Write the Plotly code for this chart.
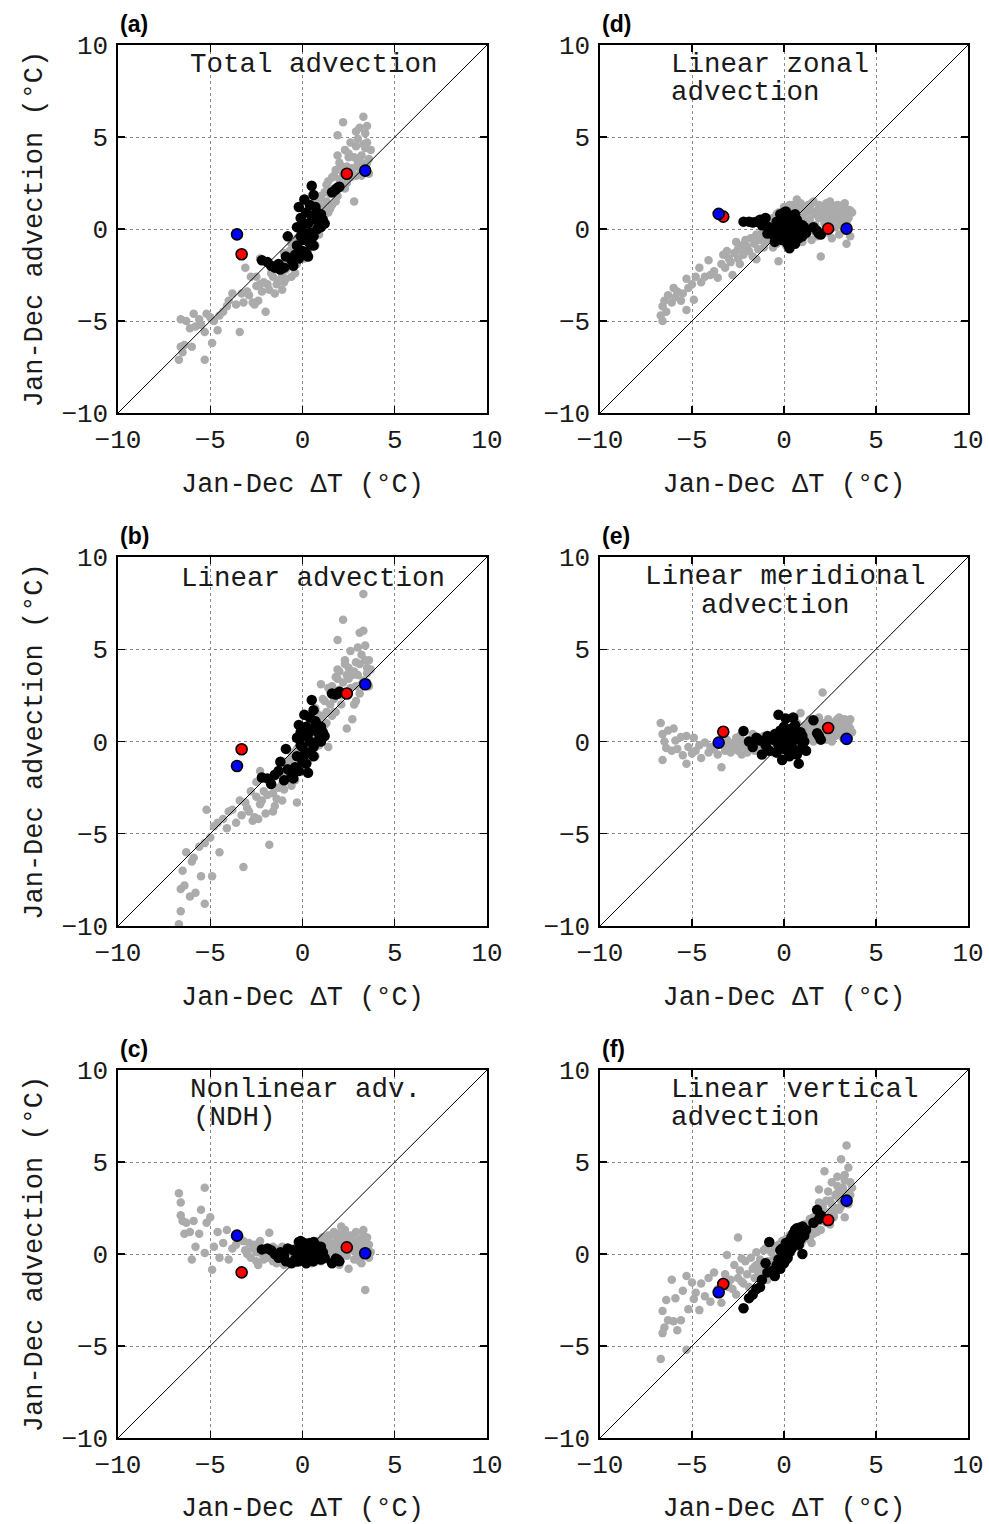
import plotly.graph_objects as go

# ---------------- data ----------------
AXIS_RANGE = [-10, 10]
TICKS = [-10, -5, 0, 5, 10]

# Jan-Dec Delta T (shared x for all panels)
gray_x = [-6.7, -6.6, -6.6, -6.5, -6.4, -6.3, -6.1, -6.0, -5.9, -5.8, -5.6, -5.5, -5.3, -5.3, -5.2,
          -5.0, -4.9, -4.8, -4.6, -4.5, -4.3, -4.1, -4.0, -3.8, -3.6, -3.4, -3.3, -3.2, -3.1, -3.0,
          -2.9, -2.8, -2.7, -2.6, -2.5, -2.5, -2.4, -2.3, -2.2, -2.1, -2.0, -1.9, -1.8, -1.7, -1.6,
          -1.5, -1.5, -1.4, -1.3, -1.2, -1.1, -1.1, -1.0, -1.0, -0.9,
          -0.8, -0.7, -0.6, -0.6, -0.5, -0.4, -0.3, -0.3, -0.2, -0.1, 0.0, 0.0, 0.1, 0.2, 0.2,
          0.3, 0.4, 0.4, 0.5, 0.5, 0.6, 0.7, 0.7, 0.8, 0.8, 0.9, 0.9, 1.0, 1.0, 1.1,
          1.2, 1.2, 1.3, 1.4, 1.4, 1.5, 1.6, 1.6, 1.7, 1.8, 1.8, 1.9, 2.0, 2.0, 2.1,
          2.2, 2.2, 2.3, 2.4, 2.4, 2.5, 2.6, 2.6, 2.7, 2.8, 2.8, 2.9, 3.0, 3.0, 3.1,
          3.2, 3.2, 3.3, 3.3, 3.4, 3.4, 3.5, 3.5, 3.6, 3.6, 3.7, 2.5, 2.9, 1.9, 3.1,
          0.3, 0.6, 0.9, 1.1, 1.3, 1.5, 1.7, 1.9, 2.1, 2.3, 2.5, 2.7, 2.9, 3.1, 3.3,
          3.5, -0.4, -0.9, -1.6, -2.3]

gray_y = {
    "a": [-7.1, -6.4, -4.9, -6.7, -6.3, -5.0, -5.4, -6.4, -4.6, -5.3, -4.9, -5.2, -7.1, -5.6, -4.6,
          -4.8, -6.2, -5.0, -5.5, -4.7, -4.5, -4.2, -3.9, -3.5, -4.1, -5.6, -3.5, -4.0, -2.1, -3.4,
          -3.6, -2.6, -4.0, -4.1, -3.1, -2.6, -3.9, -1.6, -3.4, -2.9, -4.5, -3.0, -3.3, -2.4, -2.6,
          -3.5, -2.2, -3.0, -2.8, -1.9, -2.5, -3.3, -2.9, -1.3, -2.2,
          -2.0, -1.2, -2.6, -0.8, -1.5, -2.4, -0.5, -1.9, 0.0, -1.1, -0.6, 0.5, -1.6, 0.2, -0.3,
          -1.2, 0.8, 0.3, -0.4, 1.0, 0.6, -0.9, 1.5, 0.2, 1.3, -0.3, 0.9, 1.8, 0.4, 1.2,
          0.8, 2.0, 1.5, 2.6, 0.9, 1.9, 2.8, 1.3, 2.2, 3.2, 1.5, 5.1, 2.7, 3.6, 2.4,
          5.8, 3.0, 4.3, 3.4, 2.5, 3.9, 4.7, 2.8, 3.3, 3.9, 1.5, 2.9, 4.9, 3.6, 5.5,
          2.9, 4.0, 6.1, 3.5, 5.2, 4.4, 3.6, 4.7, 3.0, 3.8, 4.3, 3.1, 4.5, 4.0, 3.3,
          1.0, 0.2, 1.6, 0.5, 2.4, 1.1, 2.9, 1.8, 3.4, 2.2, 4.1, 3.0, 5.3, 3.8, 4.6,
          5.6, -1.0, -2.7, -2.0, -3.0],
    "b": [-9.9, -8.0, -9.2, -7.0, -7.8, -6.0, -8.4, -6.5, -6.3, -8.2, -5.7, -7.3, -8.8, -5.5, -3.7,
          -5.2, -7.3, -4.6, -4.4, -6.0, -4.2, -4.7, -3.8, -3.7, -4.4, -3.2, -4.0, -6.8, -3.3, -3.6,
          -3.8, -2.7, -4.3, -4.1, -3.0, -2.2, -4.2, -1.6, -3.2, -2.7, -3.9, -2.9, -5.6, -2.3, -2.8,
          -3.5, -1.9, -3.1, -2.5, -1.7, -2.3, -3.2, -2.6, -1.1, -2.0,
          -1.8, -1.0, -2.4, -0.6, -1.3, -2.1, -0.4, -3.3, 0.2, -1.0, -0.5, 0.6, -1.5, 0.3, -0.2,
          -1.1, 0.9, 0.4, -0.3, 1.2, 0.7, -0.8, 1.8, 0.3, 1.5, -0.2, 1.0, 3.1, 0.5, 1.4,
          0.9, 2.2, 1.6, 2.9, -0.3, 2.0, 3.0, 1.4, 2.3, 3.5, 1.6, 5.5, 2.8, 3.8, 2.5,
          6.6, 3.2, 4.2, 3.6, 0.7, 4.0, 4.9, 2.9, 1.2, 3.8, 2.0, 3.0, 5.1, 3.6, 5.9,
          3.1, 4.7, 8.0, 3.3, 5.2, 4.4, 3.7, 4.0, 3.0, 4.4, 3.9, 3.4, 4.3, 3.9, 2.6,
          0.5, 1.4, 0.0, 2.3, 1.0, 2.7, 1.6, 3.4, 2.0, 4.4, 2.6, 3.6, 2.2, 4.2, 6.0,
          3.2, -1.7, -1.6, -3.8, -3.4],
    "c": [3.3, 2.8, 2.1, 1.8, 1.1, 1.7, 1.2, -0.3, 1.8, 0.4, 1.1, 2.4, 3.6, 0.05, 1.7,
          2.0, -0.85, 0.4, 1.2, -0.2, 0.6, 1.3, -0.3, 0.3, 0.5, 0.9, -1.05, 0.7, 0.2, 0.0,
          0.6, -0.2, 0.3, 0.5, -0.4, 0.1, -0.6, 0.3, 0.0, -0.3, 0.2, -0.2, 1.15, 0.1, -0.4,
          0.0, 0.3, -0.5, 0.2, -0.1, -0.3, 0.4, 0.0, -0.6, -0.2,
          0.2, -0.4, 0.1, -0.2, 0.3, -0.5, 0.0, 0.4, -0.3, 0.2, -0.1, 0.5, -0.4, 0.1, 0.3,
          -0.2, 0.6, 0.0, -0.5, 0.2, 0.4, -0.3, 0.1, 0.7, -0.1, 0.3, 0.5, -0.4, 0.2, 0.9,
          0.4, -0.3, 0.8, 0.1, 1.0, -0.4, 0.5, 0.2, 1.2, -0.2, 0.6, 0.3, -0.6, 0.9, 1.5,
          0.0, 0.4, 1.1, -0.1, 0.7, -0.8, 0.3, 1.0, 0.2, 0.6, -0.3, 1.2, 0.5, 0.0, 0.8,
          -0.5, 0.3, 1.3, 0.1, 0.6, -1.95, 0.9, 0.2, 0.5, -0.2, 0.1, 0.8, 0.4, 1.1, -0.4,
          0.3, -0.2, 0.5, 0.9, -0.1, 0.6, 1.0, 0.2, 0.7, 1.3, 0.4, 0.9, 0.1, 0.6, 1.0,
          0.3, 0.1, -0.5, 0.4, 0.7],
    "d": [-4.7, -5.0, -4.2, -3.9, -4.5, -3.6, -4.0, -3.2, -3.7, -3.4, -3.9, -3.5, -4.4, -2.7, -3.2,
          -3.0, -3.85, -2.6, -2.1, -2.9, -2.6, -1.7, -2.5, -2.3, -2.65, -1.9, -1.4, -2.1, -1.2, -1.6,
          -1.8, -2.5, -1.3, -0.7, -1.6, -1.1, -1.9, -0.9, -1.4, -0.6, -0.95, -1.2, -0.5, -1.5, -0.8,
          -1.65, -0.3, -1.1, -0.6, -0.2, -1.0, -0.4, -0.7, 0.2, -0.3,
          -0.5, 0.3, -1.0, 0.6, -0.2, -0.8, 0.9, -1.75, 0.4, -0.5, 1.2, 0.1, -0.9, 0.7, -0.3,
          1.0, 0.2, -0.6, 1.3, 0.5, -0.2, 1.6, 0.8, -0.5, 1.1, 0.3, 1.4, -0.7, 0.6, 1.2,
          0.9, -0.3, 1.3, 0.5, 1.1, -0.6, 0.8, 1.5, 0.2, 1.0, -0.4, 1.3, 0.6, -1.5, 1.2,
          0.3, 0.9, 1.4, -0.2, 0.7, 1.1, 0.4, -0.5, 1.2, 0.8, 0.1, 1.3, 0.5, -0.3, 1.0,
          0.7, 1.3, -0.1, 0.9, 0.4, -0.8, 1.05, 0.6, 1.0, -0.4, 0.9, 0.3, 1.1, 0.6, 0.2,
          1.3, 0.6, -0.4, 1.0, 0.3, 1.4, -0.2, 0.9, 1.2, 0.5, 1.5, 0.7, 1.1, 0.2, 1.4,
          0.6, 0.8, -0.1, -0.7, -1.2],
    "e": [1.0, -1.0, 0.4, 0.0, -0.35, 0.6, -0.5, 0.7, 0.05, -0.4, 0.25, -0.75, -1.2, 0.3, -0.3,
          -0.65, 0.2, -0.5, -0.2, -0.9, -0.05, -0.6, -0.3, -0.4, -0.7, -1.4, -0.2, -0.5, 0.1, -0.3,
          -0.6, -0.1, -0.4, 0.2, -0.5, -0.2, 0.3, -0.7, 0.0, -0.3, -0.6, 0.1, -0.2, 0.4, -0.5,
          -0.1, 0.2, -0.4, 0.0, -0.7, 0.3, -0.2, 0.1, -0.5, 0.0,
          -0.3, 0.2, -0.6, 0.0, 0.4, -0.2, -0.7, 0.1, 0.3, -0.4, 0.0, -0.5, 0.2, 0.5, -0.3,
          0.1, -0.6, 0.3, 0.6, -0.1, 0.2, -0.4, 1.0, 0.4, 0.0, 0.6, 1.55, 0.2, 0.8, 0.4,
          0.3, 0.9, 0.1, 0.6, 1.2, 0.4, 0.0, 0.8, 1.1, 0.3, 0.7, 1.3, 0.2, 0.9, 2.65,
          0.5, 1.0, 0.1, 0.7, 1.2, 0.4, 0.9, 0.0, 0.6, 1.1, 0.3, 0.8, 1.3, 0.5, 0.9,
          0.2, 1.0, 0.6, 1.2, 0.45, 0.8, 1.0, 0.3, 0.7, 1.2, 0.5, 0.8, 0.4, 1.1, 0.6,
          0.2, -0.3, 0.5, 0.0, 0.7, 0.2, 0.9, 0.4, 0.6, 1.0, 0.3, 0.7, 1.2, 0.5, 0.9,
          0.8, -0.4, 0.1, -0.3, 0.0],
    "f": [-5.7, -4.3, -3.1, -4.0, -2.5, -3.6, -1.4, -3.65, -2.4, -4.15, -3.6, -2.0, -5.2, -1.2, -3.0,
          -1.55, -2.45, -2.1, -3.05, -1.6, -2.3, -1.3, -2.6, -1.0, -1.9, -2.65, -1.5, -1.1, -0.05, -1.8,
          -1.4, -1.9, -0.6, -2.2, 0.9, -1.3, -0.9, -0.25, -1.6, -0.4, -1.1, -1.8, -0.2, -0.8, -1.3,
          0.1, -0.6, -1.0, -0.3, -0.7, 0.2, -0.5, -1.2, 0.3, -0.4,
          -0.6, 0.1, -0.3, -0.9, 0.4, -0.2, 0.5, -0.6, 0.2, 0.7, -0.1, 0.3, 0.8, -0.3, 0.5,
          1.0, 0.1, 0.6, 1.2, 0.3, 0.8, 1.3, 0.4, 0.9, 1.5, 0.6, 1.1, 0.7, 1.4, 1.0,
          0.9, 1.6, 1.2, 0.8, 1.9, 1.4, 1.1, 2.0, 1.5, 1.2, 2.3, 3.5, 1.8, 1.3, 2.6,
          4.5, 1.9, 2.9, 2.2, 3.4, 1.6, 2.7, 3.9, 2.1, 3.2, 2.5, 3.7, 2.4, 3.0, 5.15,
          2.8, 3.6, 2.0, 4.0, 5.9, 3.3, 4.7, 2.7, 3.9, 3.2, 3.6, 2.3, 4.2, 2.8, 3.4,
          0.2, 0.9, 0.5, 1.6, 0.9, 0.6, 1.9, 1.3, 2.4, 1.7, 2.9, 2.0, 3.3, 2.6, 4.3,
          3.0, 0.4, -1.4, -0.7, -1.5],
}

black_x = [-2.2, -1.9, -1.7, -1.5, -1.3, -1.2, -1.0, -0.9, -0.8, -0.6,
           -0.5, -0.4, -0.3, -0.2, -0.2, -0.1, -0.1, 0.0, 0.0, 0.1,
           0.1, 0.2, 0.2, 0.3, 0.3, 0.4, 0.4, 0.5, 0.5, 0.6,
           0.6, 0.7, 0.7, 0.8, 0.8, 0.9, 1.0, 1.0, 1.1, 1.2,
           1.6, 1.8, 1.9, 2.0, 0.4, 0.0, -0.3, 0.6]

black_y = {
    "a": [-1.7, -1.8, -2.0, -2.1, -1.9, -2.2, -2.1, -1.5, -0.4, -1.7,
          -2.0, -1.4, -0.9, 1.2, -1.6, -0.4, 0.6, -1.2, 0.2, 1.6,
          -0.6, 0.9, -1.3, 0.3, -1.5, 1.3, -0.2, 2.35, 0.7, 1.85,
          -0.4, 0.5, 1.2, 0.0, 0.9, 0.4, 0.8, 0.1, 0.5, 0.3,
          2.0, 2.15, 2.25, 2.3, -0.8, -0.2, 0.1, -0.9],
    "b": [-1.95, -2.0, -2.3, -1.8, -1.6, -1.1, -2.1, -0.4, -1.5, -1.9,
          -2.0, -1.4, -0.8, 0.9, -1.6, -0.2, 0.5, -1.1, 0.3, 1.45,
          -0.75, 0.8, -1.2, 0.4, -1.7, 1.3, 0.0, 2.25, 0.7, 1.7,
          -0.3, 0.6, 1.1, 0.0, 0.9, 0.4, 0.8, 0.0, 0.5, 0.3,
          2.6, 2.55, 2.6, 2.7, -0.6, -0.3, 0.2, -0.8],
    "c": [0.25, 0.3, 0.2, 0.0, -0.2, 0.1, -0.05, -0.4, 0.3, -0.5,
          0.2, -0.3, 0.1, 0.65, -0.4, 0.2, 0.7, -0.3, 0.4, 0.6,
          -0.2, 0.5, -0.5, 0.3, 0.0, 0.6, -0.3, 0.4, 0.1, 0.65,
          -0.4, 0.2, 0.5, -0.2, 0.3, 0.0, 0.4, -0.3, 0.1, -0.2,
          -0.5, -0.25, -0.3, -0.4, -0.2, 0.1, -0.4, -0.1],
    "d": [0.4, 0.4, 0.35, 0.4, 0.5, 0.2, 0.6, -0.25, 0.1, -0.3,
          -0.7, 0.4, -0.5, 0.8, -0.2, 0.3, -0.6, 0.9, -0.1, 0.95,
          -0.4, 0.5, -0.8, 0.2, -1.05, 0.7, -0.3, 0.4, -0.6, 0.1,
          -0.8, 0.5, -0.2, 0.3, -0.5, 0.0, 0.2, -0.4, 0.1, -0.2,
          0.1, -0.1, -0.25, -0.3, 0.6, -0.5, 0.0, 0.8],
    "e": [0.57, 0.0, -0.3, 0.2, 0.05, -0.7, -0.2, 0.3, -0.5, 0.1,
          0.4, -0.6, 1.45, -0.3, 0.6, -1.0, 0.2, -0.4, 0.8, 0.0,
          1.25, -0.5, 0.3, -0.8, 0.5, -0.2, 0.7, 1.3, -0.4, 0.2,
          0.6, -0.7, 0.4, -1.2, 0.1, 0.5, -0.3, 0.3, 0.0, -0.5,
          1.15, 0.45, 0.3, 0.1, -0.6, 0.4, -0.2, 0.9],
    "f": [-2.95, -2.4, -2.2, -1.9, -1.8, -1.4, -0.5, -1.0, 0.65, -0.9,
          -1.2, -0.6, -0.3, 0.2, -0.8, -0.2, 0.3, -0.5, 0.1, 0.6,
          -0.3, 0.4, -0.2, 0.7, 0.1, 0.9, 0.3, 1.1, 0.5, 1.3,
          0.6, 0.9, 1.4, 0.5, 1.2, 0.8, 1.5, 0.0, 1.0, 1.3,
          1.7, 2.4, 1.9, 2.1, 0.3, -0.4, -0.7, 0.9],
}

red_x = [-3.3, 2.4]
blue_x = [-3.55, 3.4]
red_y = {"a": [-1.37, 3.0], "b": [-0.42, 2.6], "c": [-1.0, 0.36],
         "d": [0.67, 0.02], "e": [0.53, 0.73], "f": [-1.63, 1.85]}
blue_y = {"a": [-0.29, 3.17], "b": [-1.33, 3.1], "c": [1.0, 0.04],
          "d": [0.82, 0.02], "e": [-0.06, 0.14], "f": [-2.08, 2.9]}

panel_titles = {
    "a": ["Total advection"],
    "b": ["Linear advection"],
    "c": ["Nonlinear adv.", "(NDH)"],
    "d": ["Linear zonal", "advection"],
    "e": ["Linear meridional", "advection"],
    "f": ["Linear vertical", "advection"],
}
x_title = "Jan-Dec ΔT (°C)"
y_title = "Jan-Dec advection (°C)"

# ---------------- layout ----------------
W, H = 989, 1524
col_px = [(118, 487), (600, 968)]
row_px = [(45, 413), (557, 926), (1070, 1438)]
col_dom = [[a / W, b / W] for (a, b) in col_px]
row_dom = [[1 - b / H, 1 - t / H] for (t, b) in row_px]

# panel -> (col, row)
pos = {"a": (0, 0), "b": (0, 1), "c": (0, 2), "d": (1, 0), "e": (1, 1), "f": (1, 2)}
# title positions (x domain of first char, y domain center) per line
title_pos = {
    "a": [(0.190, 0.946)],
    "b": [(0.166, 0.943)],
    "c": [(0.190, 0.946), (0.198, 0.870)],
    "d": [(0.188, 0.946), (0.188, 0.870)],
    "e": [(0.117, 0.946), (0.269, 0.869)],
    "f": [(0.188, 0.946), (0.188, 0.870)],
}

MONO = "Liberation Mono, Courier New, monospace"
TXT = "#1a1a1a"

fig = go.Figure()
layout = dict(width=W, height=H, margin=dict(l=0, r=0, t=0, b=0, autoexpand=False),
              paper_bgcolor="white", plot_bgcolor="white", showlegend=False)
annotations = []

for i, p in enumerate(["a", "b", "c", "d", "e", "f"]):
    n = "" if i == 0 else str(i + 1)
    xa, ya = "x" + n, "y" + n
    c, r = pos[p]
    common = dict(range=AXIS_RANGE, tickvals=TICKS, showline=True, linecolor="black",
                  linewidth=1.6, mirror="ticks", ticks="inside", ticklen=7, tickwidth=1.2,
                  tickcolor="black", showgrid=True, gridcolor="#8a8a8a", griddash="dot",
                  gridwidth=1, zeroline=False, tickfont=dict(family=MONO, size=26, color=TXT),
                  fixedrange=True, automargin=False)
    layout["xaxis" + n] = dict(common, domain=col_dom[c], anchor=ya,
                               title=dict(text=x_title, font=dict(family=MONO, size=27, color=TXT),
                                          standoff=18),
                               ticklabelstandoff=2)
    ydict = dict(common, domain=row_dom[r], anchor=xa, ticklabelstandoff=3)
    if c == 0:
        ydict["title"] = dict(text=y_title, font=dict(family=MONO, size=27, color=TXT), standoff=11)
    layout["yaxis" + n] = ydict

    fig.add_trace(go.Scatter(x=gray_x, y=gray_y[p], mode="markers", xaxis=xa, yaxis=ya,
                             marker=dict(size=8.5, color="#ababab", line=dict(width=0)),
                             hoverinfo="skip", cliponaxis=True))
    fig.add_trace(go.Scatter(x=AXIS_RANGE, y=AXIS_RANGE, mode="lines", xaxis=xa, yaxis=ya,
                             line=dict(color="black", width=1), hoverinfo="skip"))
    fig.add_trace(go.Scatter(x=black_x, y=black_y[p], mode="markers", xaxis=xa, yaxis=ya,
                             marker=dict(size=10.5, color="black", line=dict(width=0)),
                             hoverinfo="skip"))
    fig.add_trace(go.Scatter(x=red_x, y=red_y[p], mode="markers", xaxis=xa, yaxis=ya,
                             marker=dict(size=11, color="#ff0000", line=dict(width=1.6, color="black")),
                             hoverinfo="skip"))
    fig.add_trace(go.Scatter(x=blue_x, y=blue_y[p], mode="markers", xaxis=xa, yaxis=ya,
                             marker=dict(size=11, color="#0000ff", line=dict(width=1.6, color="black")),
                             hoverinfo="skip"))

    # panel letter
    annotations.append(dict(text="<b>(" + p + ")</b>", xref=xa + " domain", yref=ya + " domain",
                            x=0.0, y=1.0 + 21 / 368, xanchor="left", yanchor="middle",
                            showarrow=False, font=dict(family="Liberation Sans, Arial, sans-serif",
                                                       size=23, color="black")))
    for (tx, ty), line in zip(title_pos[p], panel_titles[p]):
        annotations.append(dict(text=line, xref=xa + " domain", yref=ya + " domain",
                                x=tx, y=ty, xanchor="left", yanchor="middle", showarrow=False,
                                font=dict(family=MONO, size=27.5, color=TXT)))

layout["annotations"] = annotations
fig.update_layout(**layout)
fig.write_html("out.html",
               config={"displayModeBar": False, "staticPlot": True},
               post_script="document.body.style.margin='0px';"
                           "document.documentElement.style.overflow='hidden';")
